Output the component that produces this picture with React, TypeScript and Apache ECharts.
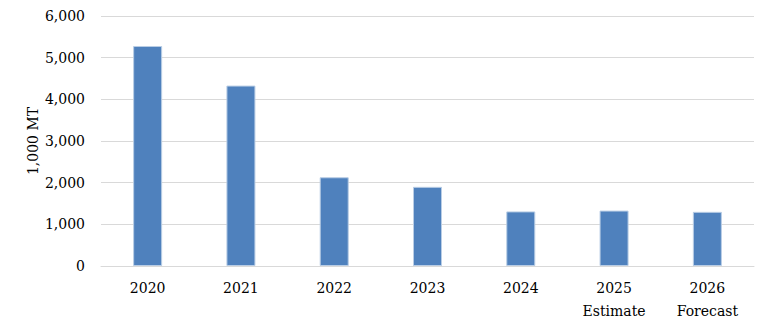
import React, { useEffect, useRef } from "react";
import * as echarts from "echarts";

const categories = ["2020", "2021", "2022", "2023", "2024", "2025\nEstimate", "2026\nForecast"];
const values = [5280, 4330, 2130, 1900, 1310, 1330, 1300];
const yTicks = { min: 0, max: 6000, interval: 1000 };
const yName = "1,000 MT";

const FONT = "DejaVu Serif";

export default function App() {
  const ref = useRef<HTMLDivElement>(null);
  useEffect(() => {
    if (!ref.current) return;
    const chart = echarts.init(ref.current, undefined, { renderer: "svg" });
    chart.setOption({
      animation: false,
      textStyle: { fontFamily: FONT },
      grid: { left: 101, right: 18, top: 16, bottom: 59 },
      xAxis: {
        type: "category",
        data: categories,
        axisLine: { show: true, lineStyle: { color: "#D9D9D9", width: 1 } },
        axisTick: { show: false },
        axisLabel: {
          color: "#000",
          fontFamily: FONT,
          fontSize: 14,
          lineHeight: 23,
          margin: 10,
        },
      },
      yAxis: {
        type: "value",
        min: yTicks.min,
        max: yTicks.max,
        interval: yTicks.interval,
        name: yName,
        nameLocation: "middle",
        nameGap: 61,
        nameMoveOverlap: false,
        nameTextStyle: { color: "#000", fontFamily: FONT, fontSize: 14 },
        axisLine: { show: false },
        axisTick: { show: false },
        axisLabel: {
          color: "#000",
          fontFamily: FONT,
          fontSize: 14,
          margin: 16,
          formatter: (v: number) => v.toLocaleString("en-US"),
        },
        splitLine: { show: true, lineStyle: { color: "#D9D9D9", width: 1 } },
      },
      series: [
        {
          type: "bar",
          data: values,
          barWidth: 29,
          itemStyle: { color: "#4F81BD", borderColor: "#B9CDE5", borderWidth: 1 },
        },
      ],
    });
    return () => chart.dispose();
  }, []);
  return <div ref={ref} style={{ width: 772, height: 325, margin: -8 }} />;
}
